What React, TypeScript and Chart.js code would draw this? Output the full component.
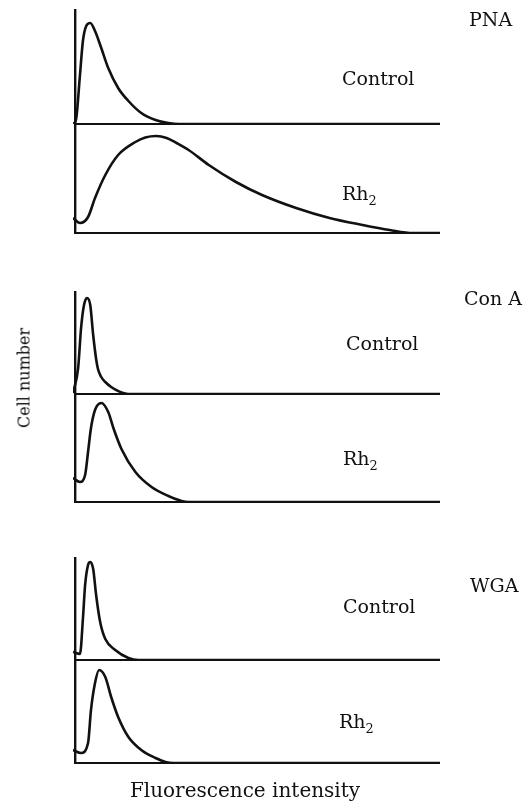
import React, { useEffect, useRef } from "react";
import { Chart, registerables } from "chart.js";

Chart.register(...registerables);

// Fluorescence intensity (arbitrary channel units, 0–100) and relative cell number
const pnaControlX = [0, 0.8, 1.9, 2.7, 3.6, 4.7, 6.0, 7.7, 9.6, 12.3, 15.1, 18.6, 22.5, 26.0, 28.8, 100];
const pnaControlY = [0, 4, 49, 83, 98, 101, 93, 76, 56, 36, 23, 11, 4, 1, 0, 0];

const pnaRh2X = [0, 1.9, 4.1, 6.0, 8.8, 12.3, 17.0, 19.7, 22.7, 25.5, 28.2, 31.5, 37.0, 44.4, 51.5, 60.8, 69.9, 78.9, 86.3, 92.6, 100];
const pnaRh2Y = [15, 10, 16, 35, 58, 78, 91, 95.5, 97, 95, 90, 83, 68, 51, 38, 25, 15, 8, 3, 0, 0];

const conaControlX = [0, 1.4, 2.2, 3.0, 3.8, 4.7, 5.5, 6.3, 6.8, 7.7, 8.8, 10.4, 12.3, 15.1, 100];
const conaControlY = [1, 26, 66, 89, 96, 89, 59, 35, 25, 17, 12, 7, 3, 0, 0];

const conaRh2X = [0, 1.9, 3.3, 4.1, 4.9, 6.0, 7.7, 9.6, 11.0, 13.2, 17.0, 21.4, 26.0, 29.6, 31.5, 100];
const conaRh2Y = [24, 20, 27, 50, 74, 92, 99, 90, 74, 53, 30, 15, 6, 1, 0, 0];

const wgaControlX = [0, 1.9, 2.7, 3.3, 4.1, 4.7, 5.5, 6.3, 7.4, 8.8, 11.5, 15.1, 17.8, 100];
const wgaControlY = [8, 6, 41, 75, 95, 98, 91, 65, 38, 21, 10, 2, 0, 0];

const wgaRh2X = [0, 2.2, 4.1, 4.9, 6.0, 7.1, 8.8, 10.4, 12.3, 15.1, 18.6, 22.5, 25.2, 27.4, 100];
const wgaRh2Y = [13, 10, 20, 53, 80, 93, 86, 66, 46, 26, 13, 5, 1, 0, 0];

const lectins = ["PNA", "Con A", "WGA"];
const groups = ["Control", "Rh2"];

const INK = "#111";
const SERIF = "'DejaVu Serif', 'Liberation Serif', serif";

// stacked y axes, top to bottom (stackWeight = pixel height of each strip)
const axisStack = [
  { id: "pnaCtrl", h: 114, gap: false },
  { id: "pnaRh2", h: 109, gap: false },
  { id: "gap1", h: 59, gap: true },
  { id: "conaCtrl", h: 102, gap: false },
  { id: "conaRh2", h: 108, gap: false },
  { id: "gap2", h: 56, gap: true },
  { id: "wgaCtrl", h: 102, gap: false },
  { id: "wgaRh2", h: 103, gap: false },
];

const pts = (xs: number[], ys: number[]) => xs.map((x, i) => ({ x, y: ys[i] }));

export default function App() {
  const ref = useRef<HTMLCanvasElement | null>(null);

  useEffect(() => {
    if (!ref.current) return;
    const scales: any = {
      x: { type: "linear", min: 0, max: 100, display: false },
    };
    axisStack.forEach((a, i) => {
      scales[a.id] = {
        type: "linear",
        position: "left",
        stack: "cells",
        stackWeight: a.h,
        weight: axisStack.length - i,
        min: 0,
        max: a.h,
        ticks: { display: false, padding: 0 },
        grid: a.gap
          ? { display: false }
          : { display: true, drawOnChartArea: true, drawTicks: false, tickLength: 0, color: INK, lineWidth: 2 },
        border: { display: !a.gap, color: INK, width: 2.4 },
        afterBuildTicks: (axis: any) => {
          axis.ticks = [{ value: 0 }];
        },
      };
    });

    const series = [
      { x: pnaControlX, y: pnaControlY, axis: "pnaCtrl", label: `${lectins[0]} ${groups[0]}` },
      { x: pnaRh2X, y: pnaRh2Y, axis: "pnaRh2", label: `${lectins[0]} ${groups[1]}` },
      { x: conaControlX, y: conaControlY, axis: "conaCtrl", label: `${lectins[1]} ${groups[0]}` },
      { x: conaRh2X, y: conaRh2Y, axis: "conaRh2", label: `${lectins[1]} ${groups[1]}` },
      { x: wgaControlX, y: wgaControlY, axis: "wgaCtrl", label: `${lectins[2]} ${groups[0]}` },
      { x: wgaRh2X, y: wgaRh2Y, axis: "wgaRh2", label: `${lectins[2]} ${groups[1]}` },
    ];

    const chart = new Chart(ref.current, {
      type: "line",
      data: {
        datasets: series.map((s) => ({
          label: s.label,
          data: pts(s.x, s.y),
          xAxisID: "x",
          yAxisID: s.axis,
          borderColor: INK,
          borderWidth: 2.6,
          pointRadius: 0,
          fill: false,
          cubicInterpolationMode: "monotone",
        })),
      },
      options: {
        responsive: false,
        maintainAspectRatio: false,
        animation: false,
        layout: { padding: { left: 67, right: 92, top: 10, bottom: 40 } },
        plugins: { legend: { display: false }, tooltip: { enabled: false }, title: { display: false } },
        scales,
      } as any,
    });
    return () => chart.destroy();
  }, []);

  const txt = (extra: React.CSSProperties): React.CSSProperties => ({
    position: "absolute",
    fontFamily: SERIF,
    fontSize: 19,
    lineHeight: "19px",
    color: INK,
    whiteSpace: "nowrap",
    ...extra,
  });
  const sub = <sub style={{ fontSize: "0.68em", verticalAlign: "-0.35em", lineHeight: 0 }}>2</sub>;

  // label baselines (px) -> top = baseline - 16
  return (
    <div style={{ position: "absolute", left: 0, top: 0, width: 532, height: 803, background: "#fff" }}>
      <canvas ref={ref} width={532} height={803} style={{ position: "absolute", left: 0, top: 0 }} />

      <div style={txt({ left: 469, top: 26 - 16 })}>{lectins[0]}</div>
      <div style={txt({ left: 342, top: 85 - 16 })}>{groups[0]}</div>
      <div style={txt({ left: 342, top: 200 - 16 })}>Rh{sub}</div>

      <div style={txt({ left: 464, top: 305 - 16 })}>{lectins[1]}</div>
      <div style={txt({ left: 346, top: 350 - 16 })}>{groups[0]}</div>
      <div style={txt({ left: 343, top: 465 - 16 })}>Rh{sub}</div>

      <div style={txt({ left: 470, top: 592 - 16 })}>{lectins[2]}</div>
      <div style={txt({ left: 343, top: 613 - 16 })}>{groups[0]}</div>
      <div style={txt({ left: 339, top: 728 - 16 })}>Rh{sub}</div>

      <div
        style={txt({
          left: 24,
          top: 378,
          fontSize: 16,
          transform: "translate(-50%, -50%) rotate(-90deg)",
        })}
      >
        Cell number
      </div>
      <div style={txt({ left: 245, top: 797 - 16, fontSize: 20, transform: "translateX(-50%)" })}>
        Fluorescence intensity
      </div>
    </div>
  );
}
